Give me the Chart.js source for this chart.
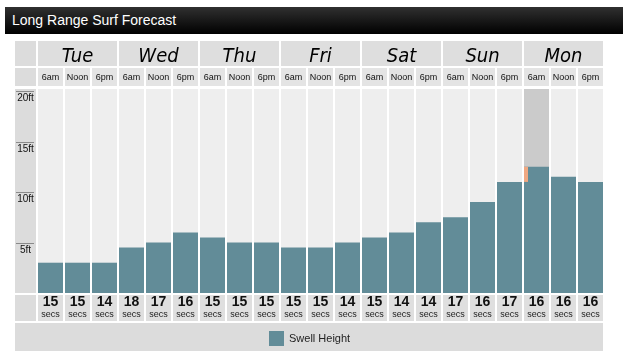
<!DOCTYPE html>
<html>
<head>
<meta charset="utf-8">
<title>Long Range Surf Forecast</title>
<script src="https://cdn.jsdelivr.net/npm/chart.js@4.4.0/dist/chart.umd.min.js"></script>
<style>
  body { margin: 0; background: #fff; font-family: "Liberation Sans", Arial, sans-serif; }
  #wrap { position: relative; width: 629px; height: 351px; }
  #title {
    position: absolute; left: 5px; top: 7px; width: 618px; height: 27px; z-index: 2;
    background: linear-gradient(#303030, #000); color: #fff;
    font-size: 14px; line-height: 27px; padding-left: 7px; box-sizing: border-box;
  }
  canvas { position: absolute; left: 0; top: 0; }
</style>
</head>
<body>
<div id="wrap">
  <div id="title">Long Range Surf Forecast</div>
  <canvas id="surfChart" width="629" height="351"></canvas>
</div>
<script>
// forecast data
const days = ["Tue", "Wed", "Thu", "Fri", "Sat", "Sun", "Mon"];
const times = ["6am", "Noon", "6pm"];
const swellHeight = [3, 3, 3, 4.5, 5, 6, 5.5, 5, 5, 4.5, 4.5, 5, 5.5, 6, 7, 7.5, 9, 11, 12.5, 11.5, 11];
const swellPeriod = [15, 15, 14, 18, 17, 16, 15, 15, 15, 15, 15, 14, 15, 14, 14, 17, 16, 17, 16, 16, 16];
const yTicks = [5, 10, 15, 20];
const highlightIndex = 18;       // current slot (Mon 6am)
const changeMarker = [11, 12.5]; // orange change bar on current slot

const labels = [];
days.forEach(d => times.forEach(t => labels.push(d + " " + t)));

const barColor = "#628c98";
const colHalf = 12.5;
const narrow = '"Liberation Sans Narrow", "Liberation Sans", Arial, sans-serif';

// draws the table-like background, headers, axis labels and period row
const gridPlugin = {
  id: "grid",
  beforeDatasetsDraw(chart) {
    const { ctx, chartArea: a, scales: { x, y } } = chart;
    ctx.save();

    // left column cells
    ctx.fillStyle = "#dcdcdc";
    [[41, 25], [68, 18], [a.top, a.bottom - a.top], [a.bottom + 2, 26]].forEach(r =>
      ctx.fillRect(15, r[0], 21, r[1])
    );

    // day header cells
    days.forEach((d, g) => {
      const l = x.getPixelForValue(g * 3) - colHalf;
      const r = x.getPixelForValue(g * 3 + 2) + colHalf;
      ctx.fillStyle = "#dedede";
      ctx.fillRect(l, 41, r - l, 25);
    });

    labels.forEach((lab, i) => {
      const l = x.getPixelForValue(i) - colHalf;
      // time row
      ctx.fillStyle = "#e4e4e4";
      ctx.fillRect(l, 68, colHalf * 2, 18);
      // plot column
      ctx.fillStyle = i === highlightIndex ? "#cbcbcb" : "#eeeeee";
      ctx.fillRect(l, a.top, colHalf * 2, a.bottom - a.top);
      // period row
      ctx.fillStyle = "#dfdfdf";
      ctx.fillRect(l, a.bottom + 2, colHalf * 2, 26);
    });

    // legend strip
    ctx.fillStyle = "#dcdcdc";
    ctx.fillRect(15, a.bottom + 30, x.getPixelForValue(labels.length - 1) + colHalf - 15, 351 - a.bottom - 30);

    ctx.restore();
  },
  afterDatasetsDraw(chart) {
    const { ctx, chartArea: a, scales: { x, y } } = chart;
    ctx.save();

    // orange change marker
    const ml = x.getPixelForValue(highlightIndex) - colHalf;
    const mt = y.getPixelForValue(changeMarker[1]);
    const mb = y.getPixelForValue(changeMarker[0]);
    ctx.fillStyle = "#f0a882";
    ctx.fillRect(ml, mt, 4, mb - mt);

    // day labels
    ctx.fillStyle = "#000";
    ctx.textAlign = "center";
    ctx.textBaseline = "alphabetic";
    ctx.font = 'italic 20px "DejaVu Sans Condensed", "DejaVu Sans", sans-serif';
    days.forEach((d, g) => {
      ctx.fillText(d, x.getPixelForValue(g * 3 + 1), 62);
    });

    // time labels
    ctx.fillStyle = "#111";
    ctx.textBaseline = "middle";
    ctx.font = "9px " + narrow;
    labels.forEach((lab, i) => {
      ctx.fillText(times[i % 3], x.getPixelForValue(i), 77.5);
    });

    // y ticks in left column
    ctx.strokeStyle = "#8a8a8a";
    ctx.lineWidth = 1;
    ctx.font = '10px "Liberation Sans", Arial, sans-serif';
    ctx.textBaseline = "top";
    ctx.fillStyle = "#111";
    yTicks.forEach(v => {
      const py = Math.round(y.getPixelForValue(v)) + 0.5;
      ctx.beginPath();
      ctx.moveTo(16, py);
      ctx.lineTo(34, py);
      ctx.stroke();
      ctx.fillText(v + "ft", 25.5, py + 2);
    });

    // swell period row
    ctx.textBaseline = "middle";
    labels.forEach((lab, i) => {
      const cx = x.getPixelForValue(i);
      ctx.fillStyle = "#111";
      ctx.font = "bold 14px " + narrow;
      ctx.fillText(String(swellPeriod[i]), cx, a.bottom + 9);
      ctx.font = "9px " + narrow;
      ctx.fillStyle = "#222";
      ctx.fillText("secs", cx, a.bottom + 22);
    });

    // legend
    const ds = chart.data.datasets[0];
    ctx.fillStyle = ds.backgroundColor;
    ctx.fillRect(269, a.bottom + 38, 15, 15);
    ctx.fillStyle = "#222";
    ctx.textAlign = "left";
    ctx.font = "11px " + narrow;
    ctx.fillText(ds.label, 289, a.bottom + 45.5);

    ctx.restore();
  }
};

new Chart(document.getElementById("surfChart"), {
  type: "bar",
  data: {
    labels: labels,
    datasets: [{
      label: "Swell Height",
      data: swellHeight,
      backgroundColor: barColor,
      borderWidth: 0,
      categoryPercentage: 1,
      barPercentage: 25 / 27,
    }],
  },
  options: {
    responsive: false,
    animation: false,
    devicePixelRatio: 1,
    layout: { padding: { left: 37, right: 25, top: 89, bottom: 58 } },
    plugins: { legend: { display: false }, tooltip: { enabled: false } },
    scales: {
      x: { display: false },
      y: { display: false, min: 0, max: 20.2 },
    },
  },
  plugins: [gridPlugin],
});
</script>
</body>
</html>
